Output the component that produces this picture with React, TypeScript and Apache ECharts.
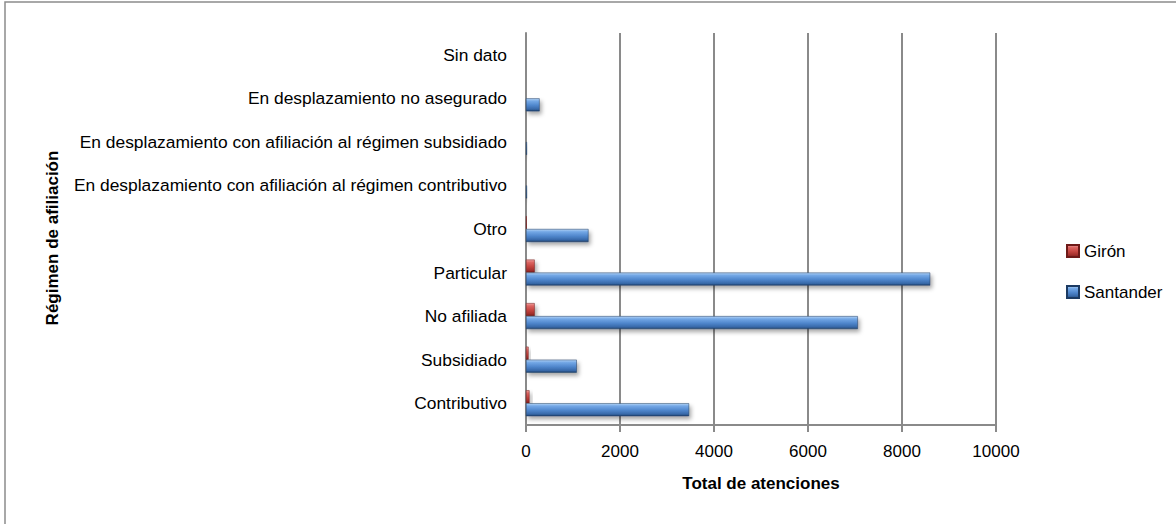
import React, { useEffect, useRef } from "react";
import * as echarts from "echarts";

const categories = [
  "Contributivo",
  "Subsidiado",
  "No afiliada",
  "Particular",
  "Otro",
  "En desplazamiento con afiliación al régimen contributivo",
  "En desplazamiento con afiliación al régimen subsidiado",
  "En desplazamiento no asegurado",
  "Sin dato",
];

const gironValues = [75, 55, 185, 185, 18, 0, 0, 0, 0];
const santanderValues = [3470, 1080, 7060, 8600, 1330, 20, 20, 290, 0];

const xTicks = { min: 0, max: 10000, interval: 2000 };

const FONT = "'Liberation Sans', Arial, sans-serif";

const blueGrad = new echarts.graphic.LinearGradient(0, 0, 0, 1, [
  { offset: 0, color: "#b3d3f5" },
  { offset: 0.2, color: "#74a8e6" },
  { offset: 0.55, color: "#4f86cc" },
  { offset: 0.85, color: "#3768a8" },
  { offset: 1, color: "#1f4370" },
]);
const redGrad = new echarts.graphic.LinearGradient(0, 0, 0, 1, [
  { offset: 0, color: "#f0a09e" },
  { offset: 0.2, color: "#dc6663" },
  { offset: 0.55, color: "#c4443f" },
  { offset: 0.85, color: "#a02e2b" },
  { offset: 1, color: "#7a1d1b" },
]);

export default function App() {
  const ref = useRef<HTMLDivElement>(null);

  useEffect(() => {
    document.body.style.margin = "0";
    const chart = echarts.init(ref.current!, undefined, { renderer: "svg" });
    const axisGray = "#8a8a8a";
    chart.setOption({
      animation: false,
      backgroundColor: "#ffffff",
      textStyle: { fontFamily: FONT },
      grid: {
        left: 526,
        right: 180,
        top: 33,
        bottom: 99,
        containLabel: false,
        outerBoundsMode: "none",
      },
      legend: {
        orient: "vertical",
        left: 1061,
        top: 236,
        itemWidth: 12,
        itemHeight: 12,
        itemGap: 21,
        icon: "rect",
        data: ["Girón", "Santander"],
        textStyle: { fontSize: 17, color: "#000", fontFamily: FONT, lineHeight: 20 },
      },
      xAxis: {
        type: "value",
        min: xTicks.min,
        max: xTicks.max,
        interval: xTicks.interval,
        axisLine: { show: true, lineStyle: { color: axisGray, width: 2 } },
        axisTick: { show: true, length: 7, lineStyle: { color: axisGray, width: 2 } },
        splitLine: { show: true, lineStyle: { color: axisGray, width: 2 } },
        axisLabel: {
          fontSize: 17,
          color: "#000",
          margin: 18,
          fontFamily: FONT,
          formatter: (v: number) => String(v),
        },
      },
      yAxis: {
        type: "category",
        data: categories,
        axisLine: { show: true, lineStyle: { color: axisGray, width: 2 } },
        axisTick: { show: false },
        axisLabel: { fontSize: 17.4, color: "#000", margin: 19, fontFamily: FONT },
      },
      graphic: [
        {
          type: "rect",
          silent: true,
          shape: { x: 5, y: 2, width: 1200, height: 560 },
          style: { fill: "none", stroke: "#8c8c8c", lineWidth: 1.5 },
        },
        {
          type: "text",
          x: 761,
          y: 483,
          style: {
            text: "Total de atenciones",
            font: `bold 17px ${FONT}`,
            fill: "#000",
            align: "center",
            verticalAlign: "middle",
          },
        },
        {
          type: "text",
          x: 52,
          y: 238,
          rotation: Math.PI / 2,
          style: {
            text: "Régimen de afiliación",
            font: `bold 17px ${FONT}`,
            fill: "#000",
            align: "center",
            verticalAlign: "middle",
          },
        },
      ],
      series: [
        {
          name: "Girón",
          type: "bar",
          data: gironValues,
          barWidth: 13,
          barGap: "0%",
          itemStyle: {
            color: redGrad,
            borderColor: "#6e1a18",
            borderWidth: 0.5,
            shadowColor: "rgba(0,0,0,0.35)",
            shadowBlur: 4,
            shadowOffsetX: 2,
            shadowOffsetY: 3,
          },
        },
        {
          name: "Santander",
          type: "bar",
          data: santanderValues,
          barWidth: 13,
          barGap: "0%",
          itemStyle: {
            color: blueGrad,
            borderColor: "#1c3a62",
            borderWidth: 0.5,
            shadowColor: "rgba(0,0,0,0.35)",
            shadowBlur: 4,
            shadowOffsetX: 2,
            shadowOffsetY: 3,
          },
        },
      ],
    });
    return () => chart.dispose();
  }, []);

  return (
    <div
      ref={ref}
      style={{ position: "absolute", left: 0, top: 0, width: 1176, height: 524 }}
    />
  );
}
